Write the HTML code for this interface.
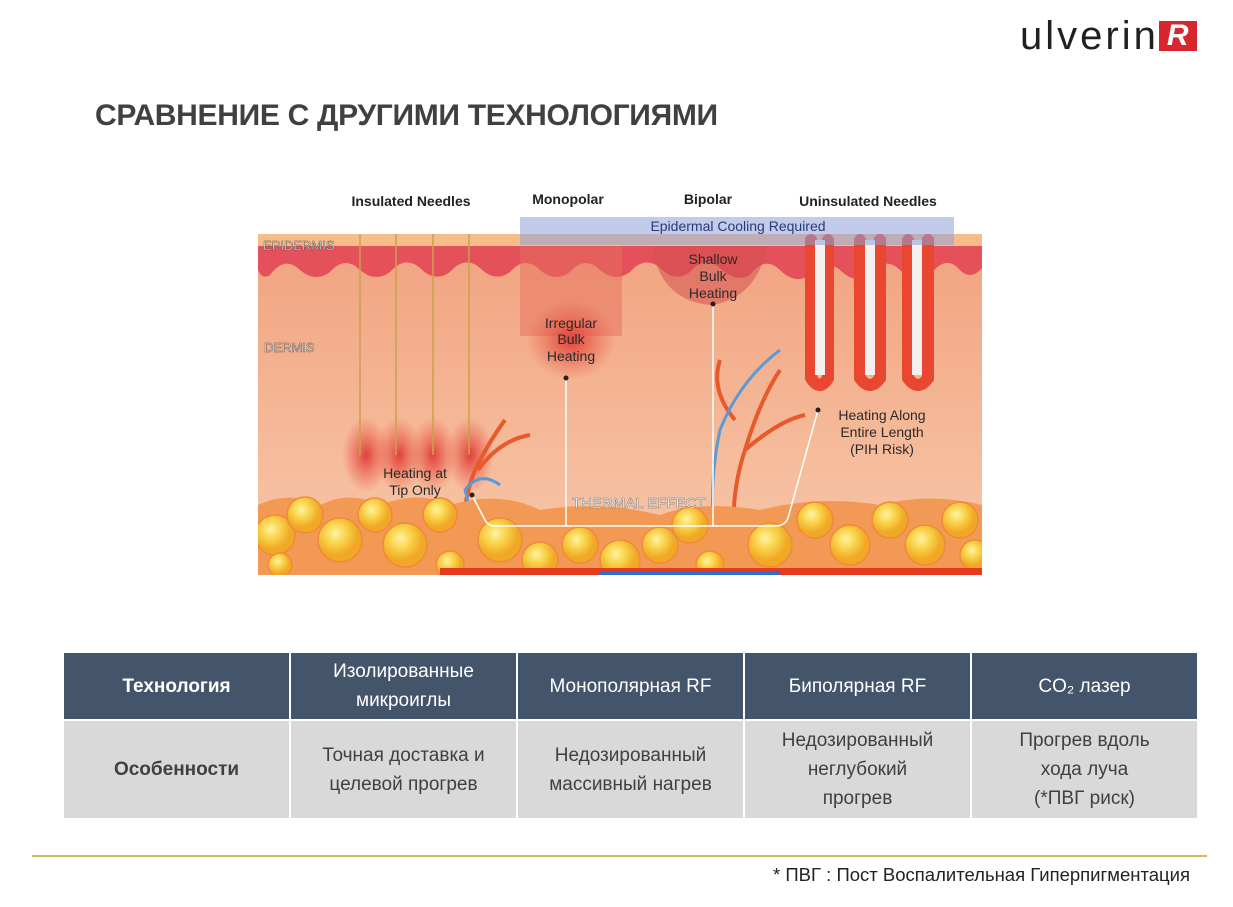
<!DOCTYPE html>
<html><head><meta charset="utf-8"><style>
body{margin:0;width:1233px;height:907px;background:#fff;position:relative;overflow:hidden;font-family:"Liberation Sans","DejaVu Sans",sans-serif}
.t{position:absolute}
table{position:absolute;left:62px;top:651px;border-collapse:collapse;width:1137px;table-layout:fixed}
td{border:2px solid #fff;text-align:center;font-size:19px;line-height:29px;padding:0}
.h td{background:#44546a;color:#fff;height:66px}
.r td{background:#d9d9d9;color:#404040;height:97px}
</style></head><body>
<div class="t" style="left:1020px;top:14px;font-size:40px;color:#231f20;letter-spacing:3px;line-height:44px">ulverin<span style="background:#d7262d;color:#fff;font-style:italic;font-weight:bold;padding:0 8px;margin-left:0px;font-size:30px;line-height:30px;display:inline-block;vertical-align:4px;letter-spacing:0">R</span></div>
<div class="t" style="left:95px;top:99px;font-size:30px;font-weight:bold;color:#404040;letter-spacing:-0.3px">СРАВНЕНИЕ С ДРУГИМИ ТЕХНОЛОГИЯМИ</div>
<svg class="t" style="left:0;top:0" width="1233" height="907" font-family="Liberation Sans, sans-serif">
<defs>
<linearGradient id="dg" x1="0" y1="0" x2="0" y2="1"><stop offset="0" stop-color="#f1a27f"/><stop offset="1" stop-color="#f8c9aa"/></linearGradient>
<radialGradient id="hg"><stop offset="0" stop-color="#e2403a"/><stop offset="1" stop-color="#e85a45" stop-opacity="0"/></radialGradient>
<radialGradient id="bub" cx="0.4" cy="0.35"><stop offset="0" stop-color="#fff3a0"/><stop offset="0.5" stop-color="#f9d24a"/><stop offset="1" stop-color="#f0a825"/></radialGradient>
<clipPath id="cp"><rect x="258" y="234" width="724" height="341"/></clipPath>
</defs>
<g font-size="14" font-weight="bold" fill="#222" text-anchor="middle">
<text x="411" y="206">Insulated Needles</text><text x="568" y="204">Monopolar</text><text x="708" y="204">Bipolar</text><text x="868" y="206">Uninsulated Needles</text></g>
<g clip-path="url(#cp)">
<rect x="258" y="234" width="724" height="341" fill="url(#dg)"/>
<rect x="258" y="234" width="724" height="12" fill="#f6bd8a"/>
<path d="M258 246 H982 V268 Q970 282 958 268 Q945 255 930 275 Q915 285 900 270 Q885 255 870 275 Q855 285 840 270 Q825 258 810 275 Q795 285 780 270 Q765 255 750 275 Q735 283 720 268 Q705 255 690 272 Q675 283 660 268 Q645 255 630 272 Q615 283 600 270 Q585 255 570 272 Q555 283 540 270 Q525 255 510 272 Q495 283 480 268 Q465 255 450 272 Q435 283 420 268 Q405 255 390 272 Q375 283 360 270 Q345 255 330 272 Q315 283 300 270 Q285 255 270 275 Q262 280 258 270Z" fill="#e5515a"/>
<rect x="520" y="246" width="102" height="90" fill="#e5705e" opacity="0.5"/>
<ellipse cx="571" cy="340" rx="45" ry="40" fill="url(#hg)"/>
<path d="M652 246 Q660 300 710 305 Q755 300 768 246Z" fill="#d45050" opacity="0.55"/>
<g fill="url(#hg)"><ellipse cx="366" cy="455" rx="24" ry="38"/><ellipse cx="399" cy="455" rx="24" ry="38"/><ellipse cx="433" cy="455" rx="24" ry="38"/><ellipse cx="470" cy="455" rx="24" ry="38"/></g>
<g stroke="#c9a24a" stroke-width="1.5"><line x1="360" y1="234" x2="360" y2="455"/><line x1="396" y1="234" x2="396" y2="455"/><line x1="433" y1="234" x2="433" y2="455"/><line x1="469" y1="234" x2="469" y2="455"/></g>
<g fill="none" stroke="#e9472f" stroke-width="12" stroke-linecap="round"><path d="M811 240 V378 Q820 392 828 378 V240"/><path d="M860 240 V378 Q870 392 880 378 V240"/><path d="M908 240 V378 Q918 392 928 378 V240"/></g>
<g fill="#f4f0ef"><rect x="815" y="240" width="10" height="135"/><rect x="865" y="240" width="10" height="135"/><rect x="912" y="240" width="10" height="135"/></g>
<g fill="none" stroke="#e85a2c" stroke-width="4"><path d="M470 575 Q455 520 475 470 Q490 440 505 420"/><path d="M478 470 Q500 440 530 435"/><path d="M740 575 Q725 510 745 450 Q760 400 780 370"/><path d="M745 450 Q780 420 805 415"/><path d="M735 420 Q710 390 720 360"/></g>
<g fill="none" stroke="#5b9ad6" stroke-width="3"><path d="M460 575 Q475 520 465 490 Q480 470 500 485"/><path d="M720 575 Q705 500 720 430 Q740 380 780 350"/></g>
<path d="M258 505 Q290 490 320 505 Q350 490 380 505 Q420 490 450 505 Q500 490 540 510 Q600 500 660 515 Q700 500 760 510 Q820 495 880 505 Q930 492 982 505 V575 H258Z" fill="#f29a55"/>
<g fill="url(#bub)" stroke="#f08a3a" stroke-width="1.5">
<circle cx="275" cy="535" r="20"/><circle cx="305" cy="515" r="18"/><circle cx="340" cy="540" r="22"/><circle cx="375" cy="515" r="17"/><circle cx="405" cy="545" r="22"/><circle cx="440" cy="515" r="17"/><circle cx="500" cy="540" r="22"/><circle cx="540" cy="560" r="18"/><circle cx="580" cy="545" r="18"/><circle cx="620" cy="560" r="20"/><circle cx="660" cy="545" r="18"/><circle cx="690" cy="525" r="18"/><circle cx="770" cy="545" r="22"/><circle cx="815" cy="520" r="18"/><circle cx="850" cy="545" r="20"/><circle cx="890" cy="520" r="18"/><circle cx="925" cy="545" r="20"/><circle cx="960" cy="520" r="18"/><circle cx="975" cy="555" r="15"/><circle cx="280" cy="565" r="12"/><circle cx="450" cy="565" r="14"/><circle cx="710" cy="565" r="14"/></g>
<rect x="440" y="568" width="542" height="7" fill="#e63a1f"/><rect x="600" y="571" width="180" height="4" fill="#2a6fd0"/>
</g>
<rect x="520" y="217" width="434" height="28" fill="#8fa0d8" opacity="0.55"/>
<text x="738" y="231" font-size="14" fill="#283a7a" text-anchor="middle">Epidermal Cooling Required</text>
<g font-size="13" fill="#f4f4f4" stroke="#555" stroke-width="0.5"><text x="263" y="250">EPIDERMIS</text><text x="264" y="352">DERMIS</text></g>
<g fill="none" stroke="#fff" stroke-width="1.5"><path d="M472 495 L485 520 Q488 526 495 526 H775 Q785 526 788 518 L818 410"/><line x1="566" y1="378" x2="566" y2="526"/><line x1="713" y1="304" x2="713" y2="526"/></g>
<g fill="#222"><circle cx="566" cy="378" r="2.5"/><circle cx="713" cy="304" r="2.5"/><circle cx="472" cy="495" r="2.5"/><circle cx="818" cy="410" r="2.5"/></g>
<g font-size="14" fill="#2a2a2a" text-anchor="middle">
<text x="571" y="328">Irregular</text><text x="571" y="344">Bulk</text><text x="571" y="361">Heating</text>
<text x="713" y="264">Shallow</text><text x="713" y="281">Bulk</text><text x="713" y="298">Heating</text>
<text x="415" y="478">Heating at</text><text x="415" y="495">Tip Only</text>
<text x="882" y="420">Heating Along</text><text x="882" y="437">Entire Length</text><text x="882" y="454">(PIH Risk)</text></g>
<text x="572" y="508" font-size="15" fill="#fff" stroke="#777" stroke-width="0.5">THERMAL EFFECT</text>
<line x1="32" y1="856" x2="1207" y2="856" stroke="#c9a227" stroke-width="1.5"/>
</svg>
<table>
<tr class="h"><td style="font-weight:bold">Технология</td><td>Изолированные<br>микроиглы</td><td>Монополярная RF</td><td>Биполярная RF</td><td>CO₂ лазер</td></tr>
<tr class="r"><td style="font-weight:bold">Особенности</td><td>Точная доставка и<br>целевой прогрев</td><td>Недозированный<br>массивный нагрев</td><td>Недозированный<br>неглубокий<br>прогрев</td><td>Прогрев вдоль<br>хода луча<br>(*ПВГ риск)</td></tr>
</table>
<div class="t" style="right:43px;top:864px;font-size:18.5px;color:#222">* ПВГ : Пост Воспалительная Гиперпигментация</div>
</body></html>
